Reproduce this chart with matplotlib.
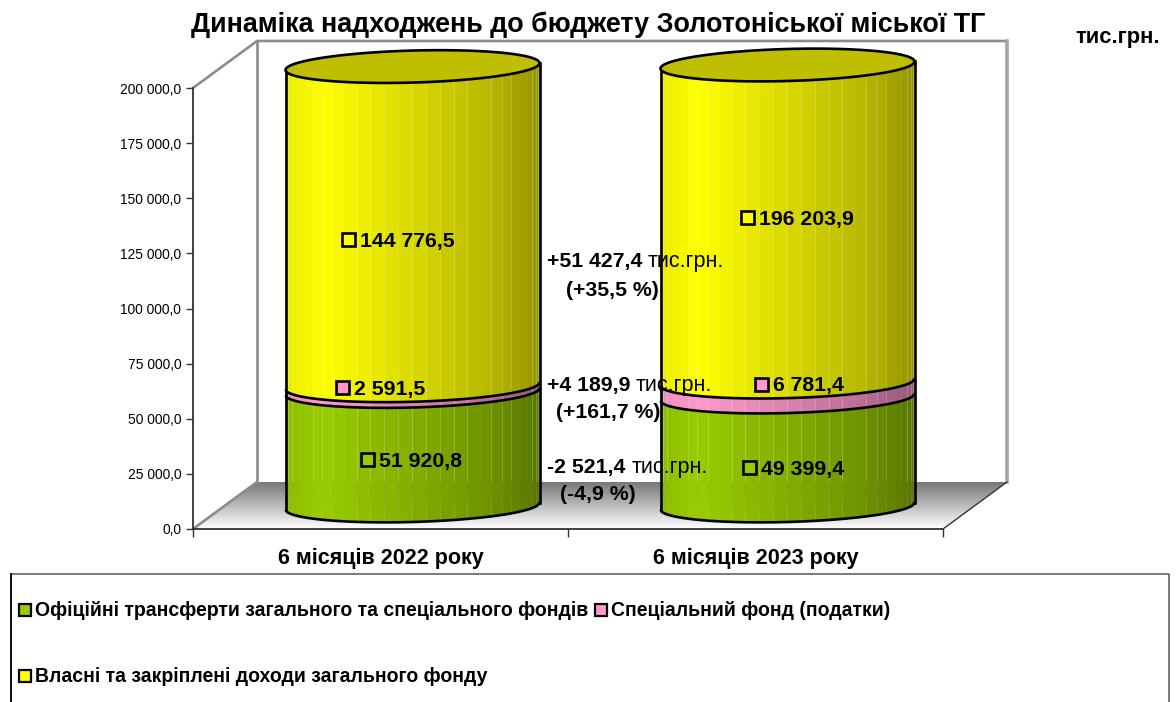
import numpy as np
import matplotlib
matplotlib.use('Agg')
import matplotlib.pyplot as plt
from matplotlib.patches import Polygon, Rectangle

plt.rcParams['font.family'] = ['Liberation Sans', 'DejaVu Sans']

# data
categories = ['6 місяців 2022 року', '6 місяців 2023 року']
transfers = [51920.8, 49399.4]
special = [2591.5, 6781.4]
own = [144776.5, 196203.9]
series_names = ['Офіційні трансферти загального та спеціального фондів',
                'Спеціальний фонд (податки)',
                'Власні та закріплені доходи загального фонду']
value_labels = [['51 920,8', '2 591,5', '144 776,5'],
                ['49 399,4', '6 781,4', '196 203,9']]
change_values = ['+51 427,4', '+4 189,9', '-2 521,4']
change_percents = ['(+35,5 %)', '(+161,7 %)', '(-4,9 %)']
y_ticks = [0, 25000, 50000, 75000, 100000, 125000, 150000, 175000, 200000]
y_max = 200000

GREEN = np.array([0x99, 0xCC, 0x00]) / 255
PINK = np.array([0xFF, 0x99, 0xCC]) / 255
YELLOW = np.array([0xFF, 0xFF, 0x00]) / 255
colors = [GREEN, PINK, YELLOW]

fig = plt.figure(figsize=(11.76, 7.02), dpi=100)
W, H = 1176, 702

# front plane of the 3d box, pixels in the picture
left, right, top, bottom = 193, 943, 88, 529
ax = fig.add_axes([left / W, 1 - bottom / H, (right - left) / W, (bottom - top) / H])
ax.set_xlim(0, 2)
ax.set_ylim(0, y_max)
ax.patch.set_alpha(0)
ux = 2 / (right - left)       # x units per pixel
uy = y_max / (bottom - top)   # y units per pixel
depth_x, depth_y = 64 * ux, 47 * uy

for s in ['top', 'right']:
    ax.spines[s].set_visible(False)
for s in ['left', 'bottom']:
    ax.spines[s].set_color('#333333')
    ax.spines[s].set_linewidth(1.3)
ax.set_yticks(y_ticks)
ax.set_yticklabels([f'{v:,.1f}'.replace(',', ' ').replace('.', ',') for v in y_ticks], fontsize=9.9)
ax.set_xticks([0, 1, 2])
ax.set_xticklabels([])
ax.tick_params(axis='y', length=5, width=1, color='#333333', pad=3.5)
ax.tick_params(axis='x', length=6, width=1, color='#333333')

# floor with gradient
grad = np.linspace(0.47, 1.0, 64).reshape(-1, 1)
floor = Polygon([(0, 0), (depth_x, depth_y), (2 + depth_x, depth_y), (2, 0)], closed=True,
                transform=ax.transData, facecolor='none', edgecolor='none')
ax.add_patch(floor)
im = ax.imshow(grad, cmap='gray', vmin=0, vmax=1, aspect='auto', zorder=1,
               extent=(0, 2 + depth_x, 0, depth_y), origin='upper')
im.set_clip_box(fig.bbox)
im.set_clip_path(floor)
ax.set_xlim(0, 2)
ax.set_ylim(0, y_max)

# walls
ax.plot([0, depth_x, 2 + depth_x], [y_max, y_max + depth_y, y_max + depth_y], color='#8c8c8c', lw=1.9,
        clip_on=False, zorder=2, solid_joinstyle='miter')
ax.plot([depth_x, depth_x], [depth_y, y_max + depth_y], color='#8c8c8c', lw=1.9, clip_on=False, zorder=2)
ax.plot([2 + depth_x, 2 + depth_x], [depth_y, y_max + depth_y], color='#a6a6a6', lw=2.6, clip_on=False, zorder=2)
ax.plot([0, depth_x], [0, depth_y], color='#8c8c8c', lw=1.9, clip_on=False, zorder=2)
ax.plot([2, 2 + depth_x], [0, depth_y], color='#333333', lw=1, clip_on=False, zorder=2)

# cylinders
half_w = 127 * ux
semi_b = 16 * uy
tilt = 3.5 * uy
base_y = 23 * uy
thetas = np.linspace(np.pi, 0, 29)
fr = np.cos(thetas)
shade_at = [0, 0.15, 0.5, 0.8, 1]
shade_val = [0.92, 1.0, 0.85, 0.72, 0.58]


def front_arc(f, level):
    return level + tilt * f - semi_b * np.sqrt(np.clip(1 - f ** 2, 0, 1))


for i in range(len(categories)):
    cx = i + 0.5 + depth_x / 2
    vals = [transfers[i], special[i], own[i]]
    levels = [0]
    for v in vals:
        levels.append(min(levels[-1] + v, y_max))
    levels = [base_y + l for l in levels]

    for k in range(3):
        y0, y1 = levels[k], levels[k + 1]
        for j in range(len(fr) - 1):
            a, b = fr[j], fr[j + 1]
            shade = np.interp((a + b) / 4 + 0.5, shade_at, shade_val)
            xs = [cx + a * half_w, cx + b * half_w, cx + b * half_w, cx + a * half_w]
            ys = [front_arc(a, y0), front_arc(b, y0), front_arc(b, y1), front_arc(a, y1)]
            ax.add_patch(Polygon(list(zip(xs, ys)), closed=True, facecolor=colors[k] * shade,
                                 edgecolor='none', clip_on=False, zorder=3))

    fine = np.linspace(-1, 1, 200)
    for lev in levels[:-1]:
        ax.plot(cx + fine * half_w, front_arc(fine, lev), color='black', lw=1.9, clip_on=False, zorder=4,
                solid_capstyle='butt')
    for side in [-1, 1]:
        ax.plot([cx + side * half_w] * 2, [base_y + tilt * side, levels[-1] + tilt * side],
                color='black', lw=1.9, clip_on=False, zorder=4)
    t = np.linspace(0, 2 * np.pi, 200)
    lid_x = cx + half_w * np.cos(t)
    lid_y = levels[-1] + tilt * np.cos(t) + semi_b * np.sin(t)
    ax.add_patch(Polygon(list(zip(lid_x, lid_y)), closed=True, facecolor='#C0BE00', edgecolor='black',
                         lw=1.9, clip_on=False, zorder=5))

# page overlay for the text, in pixels
pg = fig.add_axes([0, 0, 1, 1], zorder=10)
pg.set_xlim(0, W)
pg.set_ylim(H, 0)
pg.axis('off')

pg.text(588, 25, 'Динаміка надходжень до бюджету Золотоніської міської ТГ', fontsize=19.4, fontweight='bold',
        ha='center', va='center')
pg.text(1118, 37, 'тис.грн.', fontsize=15.8, fontweight='bold', ha='center', va='center')
pg.text(381, 558, categories[0], fontsize=15.5, fontweight='bold', ha='center', va='center')
pg.text(756, 558, categories[1], fontsize=15.5, fontweight='bold', ha='center', va='center')

# labels of the values
label_pos = [[(367, 459), (342, 387), (348, 239)], [(749, 467), (761, 384), (747, 217)]]
for i in range(2):
    for k in range(3):
        x, y = label_pos[i][k]
        pg.add_patch(Rectangle((x - 6.5, y - 6.5), 13, 13, facecolor=colors[k], edgecolor='black', lw=1.9))
        pg.text(x + 12, y + 2, value_labels[i][k], fontsize=15.3, fontweight='bold', ha='left', va='center')

# change notes between the bars
note_pos = [(547, 261, 648, 566, 290), (547, 386, 636, 556, 413), (547, 467, 632, 560, 494)]
for n in range(3):
    x, y, x_unit, x2, y2 = note_pos[n]
    pg.text(x, y, change_values[n], fontsize=15.3, fontweight='bold', ha='left', va='center')
    pg.text(x_unit, y, 'тис.грн.', fontsize=15.5, ha='left', va='center')
    pg.text(x2, y2, change_percents[n], fontsize=15.3, fontweight='bold', ha='left', va='center')

# legend box
pg.plot([11, 11, 1169, 1169], [H + 5, 574, 574, H + 5], color='#555555', lw=1.1)
pg.plot([11, 11], [574, H + 5], color='black', lw=1.2)
legend_pos = [(19, 610), (595, 610), (19, 676)]
for k in range(3):
    x, y = legend_pos[k]
    pg.add_patch(Rectangle((x, y - 6), 12, 12, facecolor=colors[k], edgecolor='black', lw=1.6))
    pg.text(x + 16, y, series_names[k], fontsize=14.05, fontweight='bold', ha='left', va='center')

plt.savefig('out.png', dpi=100)
